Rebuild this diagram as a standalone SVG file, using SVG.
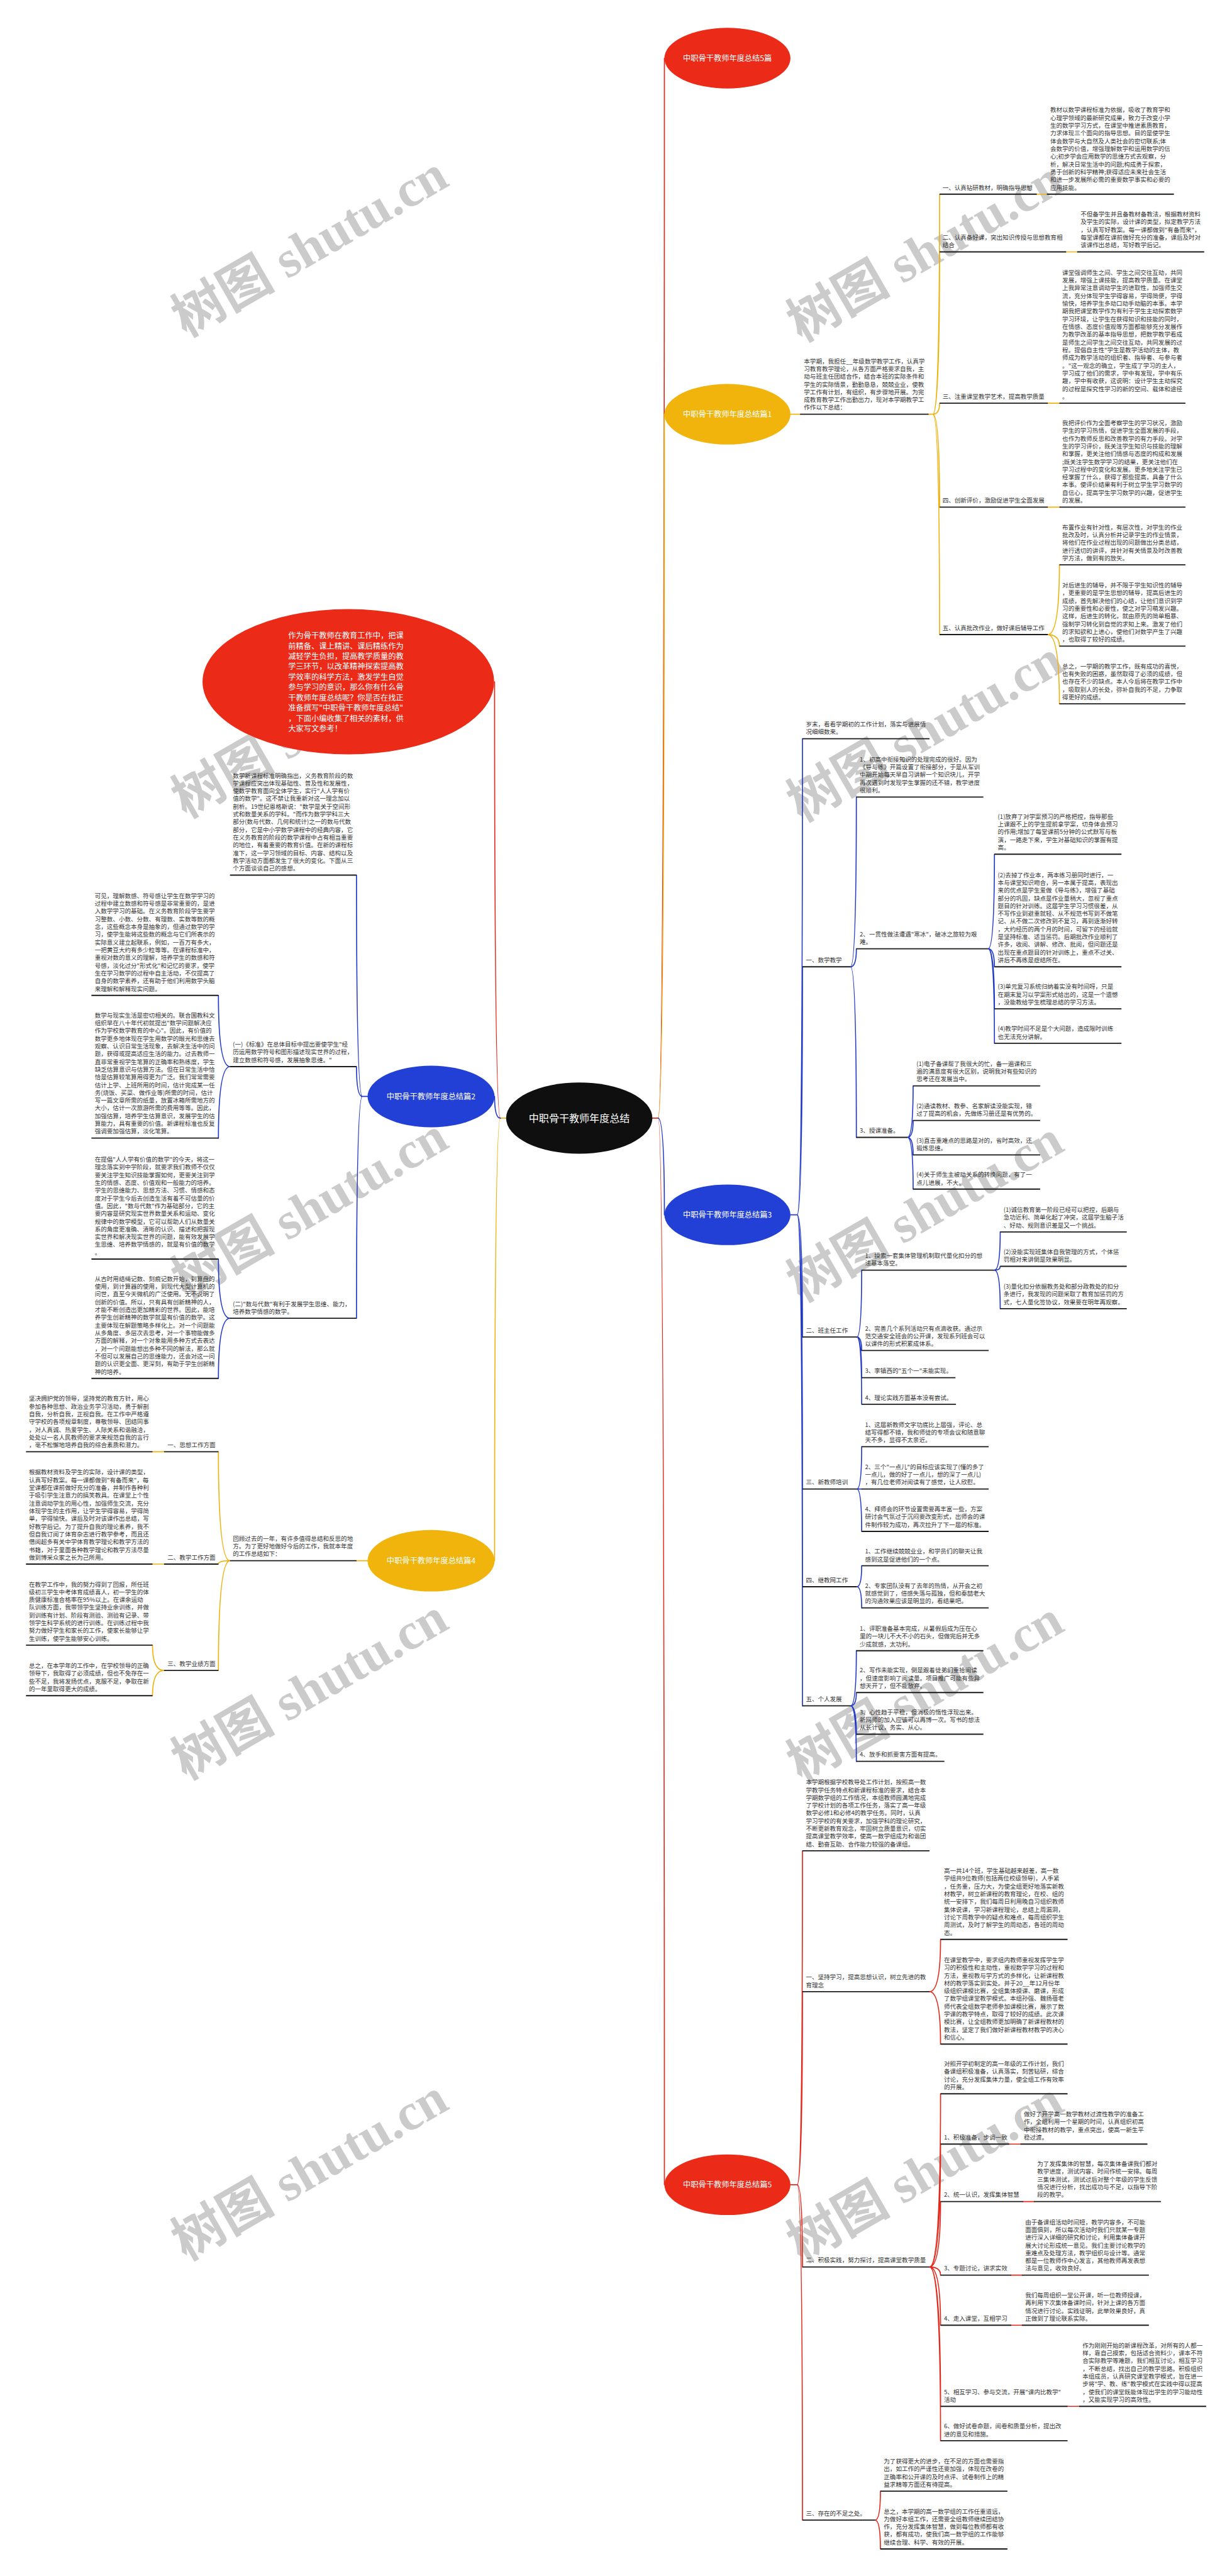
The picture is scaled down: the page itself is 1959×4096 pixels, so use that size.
<svg xmlns="http://www.w3.org/2000/svg" width="1959" height="4096" viewBox="0 0 1959 4096">
<style>
.t{font-family:"Noto Sans CJK SC","Noto Sans",sans-serif;font-size:12.5px;fill:#333}
.u{stroke:#1a1a1a;stroke-width:2.4;fill:none}
.c{fill:none;stroke-width:2.2;stroke-linecap:round}
.cy{stroke:#eeb20f}.cb{stroke:#2339c8}.cr{stroke:#e1281b}
.nt{font-family:"Noto Sans CJK SC","Noto Sans",sans-serif;font-size:16px;fill:#fff;text-anchor:middle}
.wm{font-family:"Liberation Serif","Noto Sans CJK SC",serif;font-size:108px;font-weight:bold;fill:#cbcbcb;text-anchor:middle}
</style>
<rect width="1959" height="4096" fill="#fff"/>
<g transform="scale(0.765)">
<g id="watermarks">
<text class="wm" transform="translate(643 510) rotate(-30)" y="38">树图 shutu.cn</text>
<text class="wm" transform="translate(643 1510) rotate(-30)" y="38">树图 shutu.cn</text>
<text class="wm" transform="translate(643 2509) rotate(-30)" y="38">树图 shutu.cn</text>
<text class="wm" transform="translate(643 3509) rotate(-30)" y="38">树图 shutu.cn</text>
<text class="wm" transform="translate(643 4508) rotate(-30)" y="38">树图 shutu.cn</text>
<text class="wm" transform="translate(1922 520) rotate(-30)" y="38">树图 shutu.cn</text>
<text class="wm" transform="translate(1922 1518) rotate(-30)" y="38">树图 shutu.cn</text>
<text class="wm" transform="translate(1922 2516) rotate(-30)" y="38">树图 shutu.cn</text>
<text class="wm" transform="translate(1922 3514) rotate(-30)" y="38">树图 shutu.cn</text>
<text class="wm" transform="translate(1922 4512) rotate(-30)" y="38">树图 shutu.cn</text>
</g>
<g id="connectors">
<path class="c cr" d="M1356 2324H1368M1368 2324Q1381 2324 1381 121M1368 2324Q1381 2324 1381 4541"/>
<path class="c cy" d="M1368 2324Q1381 2324 1381 861"/>
<path class="c cb" d="M1368 2324Q1381 2324 1381 2525"/>
<path class="c cy" d="M1052 2324H1040M1040 2324Q1028 2324 1028 3244"/>
<path class="c cr" d="M1040 2324Q1028 2324 1028 1417"/>
<path class="c cb" d="M1040 2324Q1028 2324 1028 2279"/>
<path class="c cy" d="M1643 861H1663M1930 861H1939M1939 861Q1953 861 1953 403.6M1939 861Q1953 861 1953 523.5M1939 861Q1953 861 1953 838M1939 861Q1953 861 1953 1054M1939 861Q1953 861 1953 1319M2155 403.6H2176M2216 523.5H2239M2178 838H2202M2178 1054H2202M2178 1319Q2202 1319 2202 1174M2178 1319Q2202 1319 2202 1343M2178 1319Q2202 1319 2202 1463"/>
<path class="c cb" d="M1643 2525H1657M1657 2525Q1668 2525 1668 1535.5M1657 2525Q1668 2525 1668 2009.5M1657 2525Q1668 2525 1668 2779M1657 2525Q1668 2525 1668 3095M1657 2525Q1668 2525 1668 3298M1657 2525Q1668 2525 1668 3545.6M1768 2009.5Q1780 2009.5 1780 1656.6M1768 2009.5Q1780 2009.5 1780 1972M1768 2009.5Q1780 2009.5 1780 2364M2054 1972Q2067 1972 2067 1775.5M2054 1972Q2067 1972 2067 2009.5M2054 1972Q2067 1972 2067 2097M2054 1972Q2067 1972 2067 2168.5M1886 2364Q1898 2364 1898 2257M1886 2364Q1898 2364 1898 2329M1886 2364Q1898 2364 1898 2400.5M1886 2364Q1898 2364 1898 2471.6M1781 2779Q1791 2779 1791 2640M1781 2779Q1791 2779 1791 2807M1781 2779Q1791 2779 1791 2863.6M1781 2779Q1791 2779 1791 2918.7M2067 2640Q2079 2640 2079 2560.6M2067 2640Q2079 2640 2079 2632M2067 2640Q2079 2640 2079 2720M1781 3095Q1791 3095 1791 3007M1781 3095H1791M1781 3095Q1791 3095 1791 3183M1781 3298Q1791 3298 1791 3254.5M1781 3298Q1791 3298 1791 3342M1768 3545.6Q1780 3545.6 1780 3431M1768 3545.6Q1780 3545.6 1780 3518M1768 3545.6Q1780 3545.6 1780 3604.6M1768 3545.6Q1780 3545.6 1780 3661"/>
<path class="c cr" d="M1643 4541H1657M1657 4541Q1668 4541 1668 3847M1657 4541Q1668 4541 1668 4139.6M1657 4541Q1668 4541 1668 4712M1657 4541Q1668 4541 1668 5238M1932 4139.6Q1955 4139.6 1955 4031M1932 4139.6Q1955 4139.6 1955 4248.7M1932 4712Q1955 4712 1955 4352M1932 4712Q1955 4712 1955 4456.5M1932 4712Q1955 4712 1955 4576M1932 4712Q1955 4712 1955 4729M1932 4712Q1955 4712 1955 4833M1932 4712Q1955 4712 1955 5001.6M1932 4712Q1955 4712 1955 5073M2098 4456.5H2121M2127 4576H2149M2102 4729H2124M2102 4833H2124M2219 5001.6H2243M1819 5238Q1830 5238 1830 5178M1819 5238Q1830 5238 1830 5298"/>
<path class="c cb" d="M764 2279H753M753 2279Q741 2279 741 1819M753 2279Q741 2279 741 2217M753 2279Q741 2279 741 2740M478 2217Q454 2217 454 2069M478 2217Q454 2217 454 2366M478 2740Q454 2740 454 2617M478 2740Q454 2740 454 2865"/>
<path class="c cy" d="M765 3244H741M478 3244Q454 3244 454 3017.5M478 3244Q454 3244 454 3251M478 3244Q454 3244 454 3472M341 3017.5H317M341 3251H317M341 3472Q317 3472 317 3419.5M341 3472Q317 3472 317 3524.5"/>
</g>
<g id="node-center"><ellipse cx="1204" cy="2324" rx="152" ry="74" fill="#0f0f0f"/><text class="nt" x="1204" y="2332" style="font-size:21px">中职骨干教师年度总结</text></g>
<g id="node-top"><ellipse cx="1512" cy="121" rx="131" ry="63" fill="#ec2a18"/><text class="nt" x="1512" y="127">中职骨干教师年度总结5篇</text></g>
<g id="node-p1"><ellipse cx="1512" cy="861" rx="131" ry="63" fill="#f0b40c"/><text class="nt" x="1512" y="867">中职骨干教师年度总结篇1</text></g>
<g id="node-p3"><ellipse cx="1512" cy="2525" rx="131" ry="63" fill="#2340d6"/><text class="nt" x="1512" y="2531">中职骨干教师年度总结篇3</text></g>
<g id="node-p5"><ellipse cx="1512" cy="4541" rx="131" ry="63" fill="#ec2a18"/><text class="nt" x="1512" y="4547">中职骨干教师年度总结篇5</text></g>
<g id="node-p2"><ellipse cx="896" cy="2279" rx="132" ry="64" fill="#2340d6"/><text class="nt" x="896" y="2285">中职骨干教师年度总结篇2</text></g>
<g id="node-p4"><ellipse cx="896" cy="3244" rx="132" ry="64" fill="#f0b40c"/><text class="nt" x="896" y="3250">中职骨干教师年度总结篇4</text></g>
<g id="node-intro"><ellipse cx="724" cy="1417" rx="303" ry="151" fill="#ec2a18"/><text class="nt" style="text-anchor:start" x="599" y="1327"><tspan x="599">作为骨干教师在教育工作中，把课</tspan><tspan x="599" dy="21.5">前精备、课上精讲、课后精练作为</tspan><tspan x="599" dy="21.5">减轻学生负担，提高教学质量的教</tspan><tspan x="599" dy="21.5">学三环节，以改革精神探索提高教</tspan><tspan x="599" dy="21.5">学效率的科学方法，激发学生自觉</tspan><tspan x="599" dy="21.5">参与学习的意识，那么你有什么骨</tspan><tspan x="599" dy="21.5">干教师年度总结呢？你是否在找正</tspan><tspan x="599" dy="21.5">准备撰写"中职骨干教师年度总结"</tspan><tspan x="599" dy="21.5">，下面小编收集了相关的素材，供</tspan><tspan x="599" dy="21.5">大家写文参考！</tspan></text></g>

<g id="p1-intro"><text class="t" y="755"><tspan x="1671">本学期，我担任__年级数学教学工作，认真学</tspan><tspan x="1671" dy="16.1">习教育教学理论，从各方面严格要求自我，主</tspan><tspan x="1671" dy="16.1">动与班主任团结合作，结合本班的实际条件和</tspan><tspan x="1671" dy="16.1">学生的实际情景，勤勤恳恳，兢兢业业，使教</tspan><tspan x="1671" dy="16.1">学工作有计划，有组织，有步骤地开展。为完</tspan><tspan x="1671" dy="16.1">成教育教学工作出勤出力，现对本学期教学工</tspan><tspan x="1671" dy="16.1">作作以下总结：</tspan></text><line class="u" x1="1663" y1="861" x2="1930" y2="861"/></g>
<g id="p1-1"><text class="t" x="1959" y="394.2">一、认真钻研教材，明确指导思想</text><line class="u" x1="1953" y1="403.6" x2="2155" y2="403.6"/></g>
<g id="p1-1a"><text class="t" y="233.2"><tspan x="2183">教材以数学课程标准为依据，吸收了教育学和</tspan><tspan x="2183" dy="16.1">心理学领域的最新研究成果，致力于改变小学</tspan><tspan x="2183" dy="16.1">生的数学学习方式，在课堂中推进素质教育，</tspan><tspan x="2183" dy="16.1">力求体现三个面向的指导思想。目的是使学生</tspan><tspan x="2183" dy="16.1">体会数学与大自然及人类社会的密切联系;体</tspan><tspan x="2183" dy="16.1">会数学的价值，增强理解数学和运用数学的信</tspan><tspan x="2183" dy="16.1">心;初步学会应用数学的思维方式去观察，分</tspan><tspan x="2183" dy="16.1">析，解决日常生活中的问题;构成勇于探索，</tspan><tspan x="2183" dy="16.1">勇于创新的科学精神;获得适应未来社会生活</tspan><tspan x="2183" dy="16.1">和进一步发展所必需的重要数学事实和必要的</tspan><tspan x="2183" dy="16.1">应用技能。</tspan></text><line class="u" x1="2176" y1="403.6" x2="2440" y2="403.6"/></g>
<g id="p1-2"><text class="t" y="498"><tspan x="1959">二、认真备好课，突出知识传授与思想教育相</tspan><tspan x="1959" dy="16.1">结合</tspan></text><line class="u" x1="1953" y1="523.5" x2="2216" y2="523.5"/></g>
<g id="p1-2a"><text class="t" y="449.7"><tspan x="2246">不但备学生并且备教材备教法，根据教材资料</tspan><tspan x="2246" dy="16.1">及学生的实际，设计课的类型，拟定教学方法</tspan><tspan x="2246" dy="16.1">，认真写好教案。每一课都做到"有备而来"，</tspan><tspan x="2246" dy="16.1">每堂课都在课前做好充分的准备，课后及时对</tspan><tspan x="2246" dy="16.1">该课作出总结，写好教学后记。</tspan></text><line class="u" x1="2239" y1="523.5" x2="2503" y2="523.5"/></g>
<g id="p1-3"><text class="t" x="1959" y="828.6">三、注重课堂教学艺术，提高教学质量</text><line class="u" x1="1953" y1="838" x2="2178" y2="838"/></g>
<g id="p1-3a"><text class="t" y="571"><tspan x="2208">课堂强调师生之间、学生之间交往互动，共同</tspan><tspan x="2208" dy="16.1">发展，增强上课技能，提高教学质量。在课堂</tspan><tspan x="2208" dy="16.1">上我异常注意调动学生的进取性，加强师生交</tspan><tspan x="2208" dy="16.1">流，充分体现学生学得容易，学得简便，学得</tspan><tspan x="2208" dy="16.1">愉快，培养学生多动口动手动脑的本事。本学</tspan><tspan x="2208" dy="16.1">期我把课堂教学作为有利于学生主动探索数学</tspan><tspan x="2208" dy="16.1">学习环境，让学生在获得知识和技能的同时，</tspan><tspan x="2208" dy="16.1">在情感、态度价值观等方面都能够充分发展作</tspan><tspan x="2208" dy="16.1">为教学改革的基本指导思想，把数学教学看成</tspan><tspan x="2208" dy="16.1">是师生之间学生之间交往互动，共同发展的过</tspan><tspan x="2208" dy="16.1">程。提倡自主性"学生是教学活动的主体，教</tspan><tspan x="2208" dy="16.1">师成为教学活动的组织者、指导者、与参与者</tspan><tspan x="2208" dy="16.1">。"这一观念的确立，学生成了学习的主人，</tspan><tspan x="2208" dy="16.1">学习成了他们的需求，学中有发现，学中有乐</tspan><tspan x="2208" dy="16.1">趣，学中有收获，这说明：设计学生主动探究</tspan><tspan x="2208" dy="16.1">的过程是探究性学习的新的空间、载体和途径</tspan><tspan x="2208" dy="16.1">。</tspan></text><line class="u" x1="2202" y1="838" x2="2464" y2="838"/></g>
<g id="p1-4"><text class="t" x="1959" y="1044.6">四、创新评价，激励促进学生全面发展</text><line class="u" x1="1953" y1="1054" x2="2178" y2="1054"/></g>
<g id="p1-4a"><text class="t" y="883.6"><tspan x="2208">我把评价作为全面考察学生的学习状况，激励</tspan><tspan x="2208" dy="16.1">学生的学习热情，促进学生全面发展的手段，</tspan><tspan x="2208" dy="16.1">也作为教师反思和改善教学的有力手段。对学</tspan><tspan x="2208" dy="16.1">生的学习评价，既关注学生知识与技能的理解</tspan><tspan x="2208" dy="16.1">和掌握，更关注他们情感与态度的构成和发展</tspan><tspan x="2208" dy="16.1">;既关注学生数学学习的结果，更关注他们在</tspan><tspan x="2208" dy="16.1">学习过程中的变化和发展。更多地关注学生已</tspan><tspan x="2208" dy="16.1">经掌握了什么，获得了那些提高，具备了什么</tspan><tspan x="2208" dy="16.1">本事。使评价结果有利于树立学生学习数学的</tspan><tspan x="2208" dy="16.1">自信心，提高学生学习数学的兴趣，促进学生</tspan><tspan x="2208" dy="16.1">的发展。</tspan></text><line class="u" x1="2202" y1="1054" x2="2464" y2="1054"/></g>
<g id="p1-5"><text class="t" x="1959" y="1309.6">五、认真批改作业，做好课后辅导工作</text><line class="u" x1="1953" y1="1319" x2="2178" y2="1319"/></g>
<g id="p1-5a"><text class="t" y="1100.2"><tspan x="2208">布置作业有针对性，有层次性，对学生的作业</tspan><tspan x="2208" dy="16.1">批改及时，认真分析并记录学生的作业情景，</tspan><tspan x="2208" dy="16.1">将他们在作业过程出现的问题做出分类总结，</tspan><tspan x="2208" dy="16.1">进行透切的讲评，并针对有关情景及时改善教</tspan><tspan x="2208" dy="16.1">学方法，做到有的放矢。</tspan></text><line class="u" x1="2202" y1="1174" x2="2464" y2="1174"/></g>
<g id="p1-5b"><text class="t" y="1220.9"><tspan x="2208">对后进生的辅导，并不限于学生知识性的辅导</tspan><tspan x="2208" dy="16.1">，更重要的是学生思想的辅导，提高后进生的</tspan><tspan x="2208" dy="16.1">成绩，首先解决他们的心结，让他们意识到学</tspan><tspan x="2208" dy="16.1">习的重要性和必要性，使之对学习萌发兴趣。</tspan><tspan x="2208" dy="16.1">这样，后进生的转化，就由原先的简单粗暴、</tspan><tspan x="2208" dy="16.1">强制学习转化到自觉的求知上来。激发了他们</tspan><tspan x="2208" dy="16.1">的求知欲和上进心，使他们对数学产生了兴趣</tspan><tspan x="2208" dy="16.1">，也取得了较好的成绩。</tspan></text><line class="u" x1="2202" y1="1343" x2="2464" y2="1343"/></g>
<g id="p1-5c"><text class="t" y="1389.2"><tspan x="2208">总之，一学期的教学工作，既有成功的喜悦，</tspan><tspan x="2208" dy="16.1">也有失败的困惑，虽然取得了必须的成绩，但</tspan><tspan x="2208" dy="16.1">也存在不少的缺点。本人今后将在教学工作中</tspan><tspan x="2208" dy="16.1">，吸取别人的长处，弥补自我的不足，力争取</tspan><tspan x="2208" dy="16.1">得更好的成绩。</tspan></text><line class="u" x1="2202" y1="1463" x2="2464" y2="1463"/></g>

<g id="p3-0"><text class="t" y="1510"><tspan x="1675">岁末，看看学期初的工作计划，落实与进展情</tspan><tspan x="1675" dy="16.1">况细细数来。</tspan></text><line class="u" x1="1668" y1="1535.5" x2="1932" y2="1535.5"/></g>
<g id="p3-1"><text class="t" x="1675" y="2000.1">一、数学教学</text><line class="u" x1="1668" y1="2009.5" x2="1768" y2="2009.5"/></g>
<g id="p3-1-1"><text class="t" y="1582.8"><tspan x="1787">1、初高中衔接知识的处理完成的很好。因为</tspan><tspan x="1787" dy="16.1">《导与练》开篇设置了衔接部分，于是从军训</tspan><tspan x="1787" dy="16.1">中期开始每天早自习讲解一个知识块儿，开学</tspan><tspan x="1787" dy="16.1">再次遇到时发现学生掌握的还不错，教学进度</tspan><tspan x="1787" dy="16.1">很顺利。</tspan></text><line class="u" x1="1780" y1="1656.6" x2="2044" y2="1656.6"/></g>
<g id="p3-1-2"><text class="t" y="1946.5"><tspan x="1787">2、一贯性做法遭遇"寒冰"，破冰之旅较为艰</tspan><tspan x="1787" dy="16.1">难。</tspan></text><line class="u" x1="1780" y1="1972" x2="2054" y2="1972"/></g>
<g id="p3-1-2a"><text class="t" y="1701.7"><tspan x="2074">(1)放弃了对学案预习的严格把控，指导那些</tspan><tspan x="2074" dy="16.1">上课跟不上的学生提前拿学案，切身体会预习</tspan><tspan x="2074" dy="16.1">的作用;增加了每堂课前5分钟的公式默写与板</tspan><tspan x="2074" dy="16.1">演，一路走下来，学生对基础知识的掌握有提</tspan><tspan x="2074" dy="16.1">高。</tspan></text><line class="u" x1="2067" y1="1775.5" x2="2331" y2="1775.5"/></g>
<g id="p3-1-2b"><text class="t" y="1823"><tspan x="2074">(2)去掉了作业本，两本练习册同时进行，一</tspan><tspan x="2074" dy="16.1">本与课堂知识吻合，另一本属于提高，表现出</tspan><tspan x="2074" dy="16.1">来的优点是学生爱做《导与练》，增强了基础</tspan><tspan x="2074" dy="16.1">部分的巩固，缺点是作业量稍大，忽视了重点</tspan><tspan x="2074" dy="16.1">题目的针对训练。这届学生学习习惯很差，从</tspan><tspan x="2074" dy="16.1">不写作业到避重就轻、从不规范书写到不做笔</tspan><tspan x="2074" dy="16.1">记、从不做二次修改到不复习，再到逐渐好转</tspan><tspan x="2074" dy="16.1">，大约经历的两个月的时间，可留下的经验就</tspan><tspan x="2074" dy="16.1">是坚持标准、适当惩罚。后期批改作业顺利了</tspan><tspan x="2074" dy="16.1">许多，收阅、讲解、修改、批阅，但问题还是</tspan><tspan x="2074" dy="16.1">出现在重点题目的针对训练上，重点不过关、</tspan><tspan x="2074" dy="16.1">讲后不再练是症结所在。</tspan></text><line class="u" x1="2067" y1="2009.5" x2="2331" y2="2009.5"/></g>
<g id="p3-1-2c"><text class="t" y="2055.4"><tspan x="2074">(3)单元复习系统归纳着实没有时间呀，只是</tspan><tspan x="2074" dy="16.1">在期末复习以学案形式给出的，这是一个遗憾</tspan><tspan x="2074" dy="16.1">，没能教给学生梳理总结的学习方法。</tspan></text><line class="u" x1="2067" y1="2097" x2="2331" y2="2097"/></g>
<g id="p3-1-2d"><text class="t" y="2143"><tspan x="2074">(4)教学时间不足是个大问题，造成限时训练</tspan><tspan x="2074" dy="16.1">也无法充分讲解。</tspan></text><line class="u" x1="2067" y1="2168.5" x2="2331" y2="2168.5"/></g>
<g id="p3-1-3"><text class="t" x="1787" y="2354.6">3、授课准备。</text><line class="u" x1="1780" y1="2364" x2="1886" y2="2364"/></g>
<g id="p3-1-3a"><text class="t" y="2215.4"><tspan x="1905">(1)电子备课帮了我很大的忙，备一遍课和三</tspan><tspan x="1905" dy="16.1">遍的满意度有很大区别，说明我对有些知识的</tspan><tspan x="1905" dy="16.1">思考还在发展当中。</tspan></text><line class="u" x1="1898" y1="2257" x2="2162" y2="2257"/></g>
<g id="p3-1-3b"><text class="t" y="2303.5"><tspan x="1905">(2)通读教材、教参、名家解读没能实现，错</tspan><tspan x="1905" dy="16.1">过了提高的机会，先做练习册还是有优势的。</tspan></text><line class="u" x1="1898" y1="2329" x2="2162" y2="2329"/></g>
<g id="p3-1-3c"><text class="t" y="2375"><tspan x="1905">(3)直击重难点的思路是对的，省时高效，还</tspan><tspan x="1905" dy="16.1">锻炼思维。</tspan></text><line class="u" x1="1898" y1="2400.5" x2="2162" y2="2400.5"/></g>
<g id="p3-1-3d"><text class="t" y="2446.1"><tspan x="1905">(4)关于师生主被动关系的转换问题，有了一</tspan><tspan x="1905" dy="16.1">点儿进展，不大。</tspan></text><line class="u" x1="1898" y1="2471.6" x2="2162" y2="2471.6"/></g>
<g id="p3-2"><text class="t" x="1675" y="2769.6">二、班主任工作</text><line class="u" x1="1668" y1="2779" x2="1781" y2="2779"/></g>
<g id="p3-2-1"><text class="t" y="2614.5"><tspan x="1798">1、摸索一套集体管理机制取代量化扣分的想</tspan><tspan x="1798" dy="16.1">法基本落空。</tspan></text><line class="u" x1="1791" y1="2640" x2="2067" y2="2640"/></g>
<g id="p3-2-1a"><text class="t" y="2519"><tspan x="2086">(1)诚信教育第一阶段已经可以把控，后期与</tspan><tspan x="2086" dy="16.1">急功近利、简单化起了冲突，这届学生脑子活</tspan><tspan x="2086" dy="16.1">、好动、规则意识差是又一个挑战。</tspan></text><line class="u" x1="2079" y1="2560.6" x2="2342" y2="2560.6"/></g>
<g id="p3-2-1b"><text class="t" y="2606.5"><tspan x="2086">(2)没能实现班集体自我管理的方式，个体惩</tspan><tspan x="2086" dy="16.1">罚相对来讲倒是效果明显。</tspan></text><line class="u" x1="2079" y1="2632" x2="2342" y2="2632"/></g>
<g id="p3-2-1c"><text class="t" y="2678.4"><tspan x="2086">(3)量化扣分依据教务处和部分政教处的扣分</tspan><tspan x="2086" dy="16.1">条进行，我发现的问题采取了教育加惩罚的方</tspan><tspan x="2086" dy="16.1">式，七人量化签协议，效果要在明年再观察。</tspan></text><line class="u" x1="2079" y1="2720" x2="2342" y2="2720"/></g>
<g id="p3-2-2"><text class="t" y="2765.4"><tspan x="1798">2、完善几个系列活动只有点滴收获。通过示</tspan><tspan x="1798" dy="16.1">范交通安全班会的公开课，发现系列班会可以</tspan><tspan x="1798" dy="16.1">以课件的形式积累成体系。</tspan></text><line class="u" x1="1791" y1="2807" x2="2055" y2="2807"/></g>
<g id="p3-2-3"><text class="t" x="1798" y="2854.2">3、李镇西的"五个一"未能实现。</text><line class="u" x1="1791" y1="2863.6" x2="1986" y2="2863.6"/></g>
<g id="p3-2-4"><text class="t" x="1798" y="2909.3">4、理论实践方面基本没有尝试。</text><line class="u" x1="1791" y1="2918.7" x2="1987" y2="2918.7"/></g>
<g id="p3-3"><text class="t" x="1675" y="3085.6">三、新教师培训</text><line class="u" x1="1668" y1="3095" x2="1781" y2="3095"/></g>
<g id="p3-3-1"><text class="t" y="2965.4"><tspan x="1798">1、这届新教师文字功底比上届强，评论、总</tspan><tspan x="1798" dy="16.1">结写得都不错，我和师徒的专项会议和随意聊</tspan><tspan x="1798" dy="16.1">天不多，显得不太亲近。</tspan></text><line class="u" x1="1791" y1="3007" x2="2055" y2="3007"/></g>
<g id="p3-3-2"><text class="t" y="3053.4"><tspan x="1798">2、三个"一点儿"的目标应该实现了(懂的多了</tspan><tspan x="1798" dy="16.1">一点儿，做的好了一点儿，想的深了一点儿)</tspan><tspan x="1798" dy="16.1">，有几位老师对阅读有了感觉，让人欣慰。</tspan></text><line class="u" x1="1791" y1="3095" x2="2055" y2="3095"/></g>
<g id="p3-3-4"><text class="t" y="3141.4"><tspan x="1798">4、拜师会的环节设置需要再丰富一些，方案</tspan><tspan x="1798" dy="16.1">研讨会气氛过于沉闷要改变形式，出师会的课</tspan><tspan x="1798" dy="16.1">件制作较为成功，再次拉升了下一届的标准。</tspan></text><line class="u" x1="1791" y1="3183" x2="2055" y2="3183"/></g>
<g id="p3-4"><text class="t" x="1675" y="3288.6">四、继教网工作</text><line class="u" x1="1668" y1="3298" x2="1781" y2="3298"/></g>
<g id="p3-4-1"><text class="t" y="3229"><tspan x="1798">1、工作继续兢兢业业，和学员们的聊天让我</tspan><tspan x="1798" dy="16.1">感到这是促进他们的一个点。</tspan></text><line class="u" x1="1791" y1="3254.5" x2="2055" y2="3254.5"/></g>
<g id="p3-4-2"><text class="t" y="3300.4"><tspan x="1798">2、专家团队没有了去年的热情，从开会之初</tspan><tspan x="1798" dy="16.1">就感觉到了，倍感失落与孤独，但和秦喆老大</tspan><tspan x="1798" dy="16.1">的沟通效果应该是明显的，看结果吧。</tspan></text><line class="u" x1="1791" y1="3342" x2="2055" y2="3342"/></g>
<g id="p3-5"><text class="t" x="1675" y="3536.2">五、个人发展</text><line class="u" x1="1668" y1="3545.6" x2="1768" y2="3545.6"/></g>
<g id="p3-5-1"><text class="t" y="3389.4"><tspan x="1787">1、评职准备基本完成，从暑假后成为压在心</tspan><tspan x="1787" dy="16.1">里的一块儿不大不小的石头，但做完后并无多</tspan><tspan x="1787" dy="16.1">少成就感，太功利。</tspan></text><line class="u" x1="1780" y1="3431" x2="2044" y2="3431"/></g>
<g id="p3-5-2"><text class="t" y="3476.4"><tspan x="1787">2、写作未能实现，倒是跟着徒弟们重拾阅读</tspan><tspan x="1787" dy="16.1">，但速度影响了阅读量。项目推广可能有些异</tspan><tspan x="1787" dy="16.1">想天开了，但不能放弃。</tspan></text><line class="u" x1="1780" y1="3518" x2="2044" y2="3518"/></g>
<g id="p3-5-3"><text class="t" y="3563"><tspan x="1787">3、心性趋于平稳，但消极的惰性浮现出来。</tspan><tspan x="1787" dy="16.1">新网师的加入应该可以再博一次。写书的想法</tspan><tspan x="1787" dy="16.1">从长计议，务实、从心。</tspan></text><line class="u" x1="1780" y1="3604.6" x2="2044" y2="3604.6"/></g>
<g id="p3-5-4"><text class="t" x="1787" y="3651.6">4、放手和抓要害方面有提高。</text><line class="u" x1="1780" y1="3661" x2="1963" y2="3661"/></g>

<g id="p5-0"><text class="t" y="3708.8"><tspan x="1675">本学期根据学校教导处工作计划，按照高一数</tspan><tspan x="1675" dy="16.1">学教学任务特点和新课程标准的要求，结合本</tspan><tspan x="1675" dy="16.1">学期数学组的工作情况，本组教师圆满地完成</tspan><tspan x="1675" dy="16.1">了学校计划的各项工作任务，落实了高一年级</tspan><tspan x="1675" dy="16.1">数学必修1和必修4的教学任务。同时，认真</tspan><tspan x="1675" dy="16.1">学习学校的有关要求，加强学科的理论研究，</tspan><tspan x="1675" dy="16.1">不断更新教育观念，牢固树立质量意识，切实</tspan><tspan x="1675" dy="16.1">提高课堂教学效率，使高一数学组成为和谐团</tspan><tspan x="1675" dy="16.1">结、勤奋互助、合作能力较强的备课组。</tspan></text><line class="u" x1="1668" y1="3847" x2="1932" y2="3847"/></g>
<g id="p5-1"><text class="t" y="4114.1"><tspan x="1675">一、坚持学习，提高思想认识，树立先进的教</tspan><tspan x="1675" dy="16.1">育理念</tspan></text><line class="u" x1="1668" y1="4139.6" x2="1932" y2="4139.6"/></g>
<g id="p5-1a"><text class="t" y="3892.8"><tspan x="1962">高一共14个班，学生基础越来越差，高一数</tspan><tspan x="1962" dy="16.1">学组共9位教师(包括两位校级领导)，人手紧</tspan><tspan x="1962" dy="16.1">，任务重，压力大，为使全组更好地落实新教</tspan><tspan x="1962" dy="16.1">材教学，树立新课程的教育理论，在校、组的</tspan><tspan x="1962" dy="16.1">统一安排下，我们每周日利用晚自习组织教师</tspan><tspan x="1962" dy="16.1">集体说课，学习新课程理论，总结上周漏洞，</tspan><tspan x="1962" dy="16.1">讨论下周教学中的疑点和难点，每周组织学生</tspan><tspan x="1962" dy="16.1">周测试，及时了解学生的周动态，各班的周动</tspan><tspan x="1962" dy="16.1">态。</tspan></text><line class="u" x1="1955" y1="4031" x2="2219" y2="4031"/></g>
<g id="p5-1b"><text class="t" y="4078.3"><tspan x="1962">在课堂教学中，要求组内教师重视发挥学生学</tspan><tspan x="1962" dy="16.1">习的积极性和主动性，重视数学学习的过程和</tspan><tspan x="1962" dy="16.1">方法，重视教与学方式的多样化，让新课程教</tspan><tspan x="1962" dy="16.1">材的教学落实到实处。并于20__年12月份年</tspan><tspan x="1962" dy="16.1">级组织课模比赛，全组集体摸课、磨课，形成</tspan><tspan x="1962" dy="16.1">了数学组课堂教学模式。本组孙强、魏扬蓓老</tspan><tspan x="1962" dy="16.1">师代表全组数学老师参加课模比赛，展示了数</tspan><tspan x="1962" dy="16.1">学课的教学特点，取得了较好的成绩。此次课</tspan><tspan x="1962" dy="16.1">模比赛，让全组教师更加明确了新课程教材的</tspan><tspan x="1962" dy="16.1">教法，坚定了我们做好新课程教材教学的决心</tspan><tspan x="1962" dy="16.1">和信心。</tspan></text><line class="u" x1="1955" y1="4248.7" x2="2219" y2="4248.7"/></g>
<g id="p5-2"><text class="t" x="1675" y="4702.6">二、积极实践，努力探讨，提高课堂教学质量</text><line class="u" x1="1668" y1="4712" x2="1932" y2="4712"/></g>
<g id="p5-2-0"><text class="t" y="4294.3"><tspan x="1962">对照开学初制定的高一年级的工作计划，我们</tspan><tspan x="1962" dy="16.1">备课组积极准备，认真落实，刻苦钻研，综合</tspan><tspan x="1962" dy="16.1">讨论，充分发挥集体力量，使全组工作有效率</tspan><tspan x="1962" dy="16.1">的开展。</tspan></text><line class="u" x1="1955" y1="4352" x2="2219" y2="4352"/></g>
<g id="p5-2-1"><text class="t" x="1962" y="4447.1">1、积极准备，步调一致</text><line class="u" x1="1955" y1="4456.5" x2="2098" y2="4456.5"/></g>
<g id="p5-2-1a"><text class="t" y="4398.8"><tspan x="2128">做好了开学高一数学教材过渡性教学的准备工</tspan><tspan x="2128" dy="16.1">作，全组利用一个星期的时间，认真组织初高</tspan><tspan x="2128" dy="16.1">中衔接教材的教学，重点突出，使高一新生平</tspan><tspan x="2128" dy="16.1">稳过渡。</tspan></text><line class="u" x1="2121" y1="4456.5" x2="2385" y2="4456.5"/></g>
<g id="p5-2-2"><text class="t" x="1962" y="4566.6">2、统一认识，发挥集体智慧</text><line class="u" x1="1955" y1="4576" x2="2127" y2="4576"/></g>
<g id="p5-2-2a"><text class="t" y="4502.2"><tspan x="2156">为了发挥集体的智慧，每次集体备课我们都对</tspan><tspan x="2156" dy="16.1">教学进度，测试内容、时间作统一安排。每周</tspan><tspan x="2156" dy="16.1">三集体测试，测试过后对整个年级的学生反馈</tspan><tspan x="2156" dy="16.1">情况进行分析，找出成功与不足，以指导下阶</tspan><tspan x="2156" dy="16.1">段的教学。</tspan></text><line class="u" x1="2149" y1="4576" x2="2413" y2="4576"/></g>
<g id="p5-2-3"><text class="t" x="1962" y="4719.6">3、专题讨论，讲求实效</text><line class="u" x1="1955" y1="4729" x2="2102" y2="4729"/></g>
<g id="p5-2-3a"><text class="t" y="4623"><tspan x="2131">由于备课组活动时间短，教学内容多，不可能</tspan><tspan x="2131" dy="16.1">面面俱到，所以每次活动时我们只就某一专题</tspan><tspan x="2131" dy="16.1">进行深入详细的研究和讨论，利用集体备课开</tspan><tspan x="2131" dy="16.1">展大讨论形成统一意见。我们主要讨论教学的</tspan><tspan x="2131" dy="16.1">重难点及处理方法，教学组织与设计等。通常</tspan><tspan x="2131" dy="16.1">都是一位教师作中心发言，其他教师再发表想</tspan><tspan x="2131" dy="16.1">法与意见，收效良好。</tspan></text><line class="u" x1="2124" y1="4729" x2="2388" y2="4729"/></g>
<g id="p5-2-4"><text class="t" x="1962" y="4823.6">4、走入课堂，互相学习</text><line class="u" x1="1955" y1="4833" x2="2102" y2="4833"/></g>
<g id="p5-2-4a"><text class="t" y="4775.3"><tspan x="2131">我们每周组织一堂公开课，听一位教师授课，</tspan><tspan x="2131" dy="16.1">再利用下次集体备课时间，针对上课的各方面</tspan><tspan x="2131" dy="16.1">情况进行讨论。实践证明，此举效果良好，真</tspan><tspan x="2131" dy="16.1">正做到了理论联系实际。</tspan></text><line class="u" x1="2124" y1="4833" x2="2388" y2="4833"/></g>
<g id="p5-2-5"><text class="t" y="4976.1"><tspan x="1962">5、相互学习、参与交流，开展"课内比教学"</tspan><tspan x="1962" dy="16.1">活动</tspan></text><line class="u" x1="1955" y1="5001.6" x2="2219" y2="5001.6"/></g>
<g id="p5-2-5a"><text class="t" y="4879.5"><tspan x="2250">作为刚刚开始的新课程改革，对所有的人都一</tspan><tspan x="2250" dy="16.1">样，靠自己摸索，包括适合资料少，课本不符</tspan><tspan x="2250" dy="16.1">合实际教学等难题，我们相互讨论，相互学习</tspan><tspan x="2250" dy="16.1">，不断总结，找出自己的教学思路。积极组织</tspan><tspan x="2250" dy="16.1">本组成员，认真研究课堂教学模式，旨在进一</tspan><tspan x="2250" dy="16.1">步将"学、教、练"教学模式在实践中得以提高</tspan><tspan x="2250" dy="16.1">，使我们的课堂既能体现出学生的学习能动性</tspan><tspan x="2250" dy="16.1">，又能实现学习的高效性。</tspan></text><line class="u" x1="2243" y1="5001.6" x2="2507" y2="5001.6"/></g>
<g id="p5-2-6"><text class="t" y="5047.5"><tspan x="1962">6、做好试卷命题，阅卷和质量分析，提出改</tspan><tspan x="1962" dy="16.1">进的意见和措施。</tspan></text><line class="u" x1="1955" y1="5073" x2="2219" y2="5073"/></g>
<g id="p5-3"><text class="t" x="1675" y="5228.6">三、存在的不足之处。</text><line class="u" x1="1668" y1="5238" x2="1819" y2="5238"/></g>
<g id="p5-3a"><text class="t" y="5120.3"><tspan x="1837">为了获得更大的进步，在不足的方面也需要指</tspan><tspan x="1837" dy="16.1">出，如工作的严谨性还要加强，体现在改卷的</tspan><tspan x="1837" dy="16.1">正确率和公开课的及时点评、试卷制作上的精</tspan><tspan x="1837" dy="16.1">益求精等方面还有待提高。</tspan></text><line class="u" x1="1830" y1="5178" x2="2094" y2="5178"/></g>
<g id="p5-3b"><text class="t" y="5224.2"><tspan x="1837">总之，本学期的高一数学组的工作任重道远，</tspan><tspan x="1837" dy="16.1">为做好本组工作，还需要全组教师继续团结协</tspan><tspan x="1837" dy="16.1">作，充分发挥集体智慧，做到每位教师都有收</tspan><tspan x="1837" dy="16.1">获，都有成功，使我们高一数学组的工作能够</tspan><tspan x="1837" dy="16.1">继续合理、科学、有效的开展。</tspan></text><line class="u" x1="1830" y1="5298" x2="2094" y2="5298"/></g>

<g id="p2-0"><text class="t" y="1616.4"><tspan x="484">数学新课程标准明确指出，义务教育阶段的数</tspan><tspan x="484" dy="16.1">学课程应突出体现基础性、普及性和发展性，</tspan><tspan x="484" dy="16.1">使数学教育面向全体学生，实行"人人学有价</tspan><tspan x="484" dy="16.1">值的数学"。这不禁让我重新对这一理念加以</tspan><tspan x="484" dy="16.1">剖析。19世纪恩格斯说："数学是关于空间形</tspan><tspan x="484" dy="16.1">式和数量关系的学科。"而作为数学学科三大</tspan><tspan x="484" dy="16.1">部分(数与代数、几何和统计)之一的数与代数</tspan><tspan x="484" dy="16.1">部分，它是中小学数学课程中的经典内容，它</tspan><tspan x="484" dy="16.1">在义务教育的阶段的数学课程中占有相当重要</tspan><tspan x="484" dy="16.1">的地位，有着重要的教育价值。在新的课程标</tspan><tspan x="484" dy="16.1">准下，这一学习领域的目标、内容、结构以及</tspan><tspan x="484" dy="16.1">教学活动方面都发生了很大的变化。下面从三</tspan><tspan x="484" dy="16.1">个方面谈谈自己的感想。</tspan></text><line class="u" x1="478" y1="1819" x2="741" y2="1819"/></g>
<g id="p2-1"><text class="t" y="2175.4"><tspan x="484">(一)《标准》在总体目标中提出要使学生"经</tspan><tspan x="484" dy="16.1">历运用数学符号和图形描述现实世界的过程，</tspan><tspan x="484" dy="16.1">建立数感和符号感，发展抽象思维。"</tspan></text><line class="u" x1="478" y1="2217" x2="741" y2="2217"/></g>
<g id="p2-1a"><text class="t" y="1866.4"><tspan x="197">可见，理解数感、符号感让学生在数学学习的</tspan><tspan x="197" dy="16.1">过程中建立数感和符号感是非常重要的，是进</tspan><tspan x="197" dy="16.1">入数学学习的基础。在义务教育阶段学生要学</tspan><tspan x="197" dy="16.1">习整数、小数、分数、有理数、实数等数的概</tspan><tspan x="197" dy="16.1">念，这些概念本身是抽象的，但通过数学的学</tspan><tspan x="197" dy="16.1">习，使学生能将这些数的概念与它们所表示的</tspan><tspan x="197" dy="16.1">实际意义建立起联系，例如，一百万有多大，</tspan><tspan x="197" dy="16.1">一把黄豆大约有多少粒等等。在课程标准中，</tspan><tspan x="197" dy="16.1">重视对数的意义的理解，培养学生的数感和符</tspan><tspan x="197" dy="16.1">号感，淡化过分"形式化"和记忆的要求，使学</tspan><tspan x="197" dy="16.1">生在学习数学的过程中自主活动，不仅提高了</tspan><tspan x="197" dy="16.1">自身的数学素养，还有助于他们利用数学头脑</tspan><tspan x="197" dy="16.1">来理解和解释现实问题。</tspan></text><line class="u" x1="190" y1="2069" x2="454" y2="2069"/></g>
<g id="p2-1b"><text class="t" y="2114.6"><tspan x="197">数学与现实生活是密切相关的。联合国教科文</tspan><tspan x="197" dy="16.1">组织早在八十年代初就提出"数学问题解决应</tspan><tspan x="197" dy="16.1">作为学校数学教育的中心"。因此，有价值的</tspan><tspan x="197" dy="16.1">数学更多地体现在学生用数学的眼光和思维去</tspan><tspan x="197" dy="16.1">观察、认识日常生活现象，去解决生活中的问</tspan><tspan x="197" dy="16.1">题，获得或提高适应生活的能力。过去教师一</tspan><tspan x="197" dy="16.1">直非常重视学生笔算的正确率和熟练度，学生</tspan><tspan x="197" dy="16.1">缺乏估算意识与估算方法。但在日常生活中恰</tspan><tspan x="197" dy="16.1">恰是估算较笔算用得更为广泛。我们常常需要</tspan><tspan x="197" dy="16.1">估计上学、上班所用的时间，估计完成某一任</tspan><tspan x="197" dy="16.1">务(烧饭、买菜、做作业等)所需的时间，估计</tspan><tspan x="197" dy="16.1">写一篇文章所需的纸量，放置冰箱所需地方的</tspan><tspan x="197" dy="16.1">大小，估计一次旅游所需的费用等等。因此，</tspan><tspan x="197" dy="16.1">加强估算，培养学生估算意识，发展学生的估</tspan><tspan x="197" dy="16.1">算能力，具有重要的价值。新课程标准也反复</tspan><tspan x="197" dy="16.1">强调要加强估算，淡化笔算。</tspan></text><line class="u" x1="190" y1="2365.5" x2="454" y2="2365.5"/></g>
<g id="p2-2"><text class="t" y="2714.5"><tspan x="484">(二)"数与代数"有利于发展学生思维、能力，</tspan><tspan x="484" dy="16.1">培养数学情感的数学。</tspan></text><line class="u" x1="478" y1="2740" x2="741" y2="2740"/></g>
<g id="p2-2a"><text class="t" y="2414.4"><tspan x="197">在提倡"人人学有价值的数学"的今天，将这一</tspan><tspan x="197" dy="16.1">理念落实到中学阶段，就要求我们教师不仅仅</tspan><tspan x="197" dy="16.1">要关注学生知识技能掌握如何，更要关注到学</tspan><tspan x="197" dy="16.1">生的情感、态度、价值观和一般能力的培养。</tspan><tspan x="197" dy="16.1">学生的思维能力、思想方法、习惯、情感和态</tspan><tspan x="197" dy="16.1">度对于学生今后去创造生活有着不可估量的价</tspan><tspan x="197" dy="16.1">值。因此，"数与代数"作为基础部分，它的主</tspan><tspan x="197" dy="16.1">要内容是研究现实世界数量关系和运动、变化</tspan><tspan x="197" dy="16.1">规律中的数学模型，它可以帮助人们从数量关</tspan><tspan x="197" dy="16.1">系的角度更准确、清晰的认识、描述和把握现</tspan><tspan x="197" dy="16.1">实世界和解决现实世界的问题，能有效发展学</tspan><tspan x="197" dy="16.1">生思维、培养数学情感的，就是有价值的数学</tspan><tspan x="197" dy="16.1">。</tspan></text><line class="u" x1="190" y1="2617" x2="454" y2="2617"/></g>
<g id="p2-2b"><text class="t" y="2662.4"><tspan x="197">从古时用结绳记数、刻痕记数开始，到算盘的</tspan><tspan x="197" dy="16.1">使用，到计算器的使用，到现代大型计算机的</tspan><tspan x="197" dy="16.1">问世，直至今天微机的广泛使用。无不说明了</tspan><tspan x="197" dy="16.1">创新的价值。所以，只有具有创新精神的人，</tspan><tspan x="197" dy="16.1">才能不断创造出更加精彩的世界。因此，能培</tspan><tspan x="197" dy="16.1">养学生创新精神的数学就是有价值的数学。这</tspan><tspan x="197" dy="16.1">主要体现在解题策略多样化上。对一个问题能</tspan><tspan x="197" dy="16.1">从多角度、多层次去思考，对一个事物能做多</tspan><tspan x="197" dy="16.1">方面的解释，对一个对象能用多种方式去表达</tspan><tspan x="197" dy="16.1">，对一个问题能想出多种不同的解法，那么就</tspan><tspan x="197" dy="16.1">不但可以发展自己的思维能力，还会对这一问</tspan><tspan x="197" dy="16.1">题的认识更全面、更深刻，有助于学生创新精</tspan><tspan x="197" dy="16.1">神的培养。</tspan></text><line class="u" x1="190" y1="2865" x2="454" y2="2865"/></g>

<g id="p4-0"><text class="t" y="3202.4"><tspan x="484">回顾过去的一年，有许多值得总结和反思的地</tspan><tspan x="484" dy="16.1">方。为了更好地做好今后的工作，我就本年度</tspan><tspan x="484" dy="16.1">的工作总结如下：</tspan></text><line class="u" x1="478" y1="3244" x2="741" y2="3244"/></g>
<g id="p4-1"><text class="t" x="348" y="3008.1">一、思想工作方面</text><line class="u" x1="341" y1="3017.5" x2="454" y2="3017.5"/></g>
<g id="p4-1a"><text class="t" y="2911.5"><tspan x="60">坚决拥护党的领导，坚持党的教育方针，用心</tspan><tspan x="60" dy="16.1">参加各种思想、政治业务学习活动，勇于解剖</tspan><tspan x="60" dy="16.1">自我，分析自我，正视自我。在工作中严格遵</tspan><tspan x="60" dy="16.1">守学校的各项规章制度，尊敬领导、团结同事</tspan><tspan x="60" dy="16.1">，对人真诚、热爱学生、人际关系和谐融洽，</tspan><tspan x="60" dy="16.1">处处以一名人民教师的要求来规范自我的言行</tspan><tspan x="60" dy="16.1">，毫不松懈地培养自我的综合素质和潜力。</tspan></text><line class="u" x1="54" y1="3017.5" x2="317" y2="3017.5"/></g>
<g id="p4-2"><text class="t" x="348" y="3241.6">二、教学工作方面</text><line class="u" x1="341" y1="3251" x2="454" y2="3251"/></g>
<g id="p4-2a"><text class="t" y="3064.5"><tspan x="60">根据教材资料及学生的实际，设计课的类型，</tspan><tspan x="60" dy="16.1">认真写好教案。每一课都做到"有备而来"，每</tspan><tspan x="60" dy="16.1">堂课都在课前做好充分的准备，并制作各种利</tspan><tspan x="60" dy="16.1">于吸引学生注意力的搞笑教具。在课堂上个性</tspan><tspan x="60" dy="16.1">注意调动学生的用心性，加强师生交流，充分</tspan><tspan x="60" dy="16.1">体现学生的主作用，让学生学得容易，学得简</tspan><tspan x="60" dy="16.1">单，学得愉快。课后及时对该课作出总结，写</tspan><tspan x="60" dy="16.1">好教学后记。为了提升自我的理论素养，我不</tspan><tspan x="60" dy="16.1">但自我订阅了体育杂志进行教学参考，而且还</tspan><tspan x="60" dy="16.1">借阅超多有关中学体育教学理论和教学方法的</tspan><tspan x="60" dy="16.1">书籍，对于里面各种教学理论和教学方法尽量</tspan><tspan x="60" dy="16.1">做到博采众家之长为己所用。</tspan></text><line class="u" x1="54" y1="3251" x2="317" y2="3251"/></g>
<g id="p4-3"><text class="t" x="348" y="3462.6">三、教学业绩方面</text><line class="u" x1="341" y1="3472" x2="454" y2="3472"/></g>
<g id="p4-3a"><text class="t" y="3297.4"><tspan x="60">在教学工作中，我的努力得到了回报，所任班</tspan><tspan x="60" dy="16.1">级初三学生中考体育成绩喜人，初一学生的体</tspan><tspan x="60" dy="16.1">质健康标准合格率在95%以上。在课余运动</tspan><tspan x="60" dy="16.1">队训练方面，我带领学生坚持业余训练，并做</tspan><tspan x="60" dy="16.1">到训练有计划、阶段有测验、测验有记录、带</tspan><tspan x="60" dy="16.1">领学生科学系统的进行训练。在训练过程中我</tspan><tspan x="60" dy="16.1">努力做好学生和家长的工作，使家长能够让学</tspan><tspan x="60" dy="16.1">生训练，使学生能够安心训练。</tspan></text><line class="u" x1="54" y1="3419.5" x2="317" y2="3419.5"/></g>
<g id="p4-3b"><text class="t" y="3466.8"><tspan x="60">总之，在本学年的工作中，在学校领导的正确</tspan><tspan x="60" dy="16.1">领导下，我取得了必须成绩，但也不免存在一</tspan><tspan x="60" dy="16.1">些不足，我将发扬优点，克服不足，争取在新</tspan><tspan x="60" dy="16.1">的一年里取得更大的成绩。</tspan></text><line class="u" x1="54" y1="3524.5" x2="317" y2="3524.5"/></g>
</g>
</svg>
